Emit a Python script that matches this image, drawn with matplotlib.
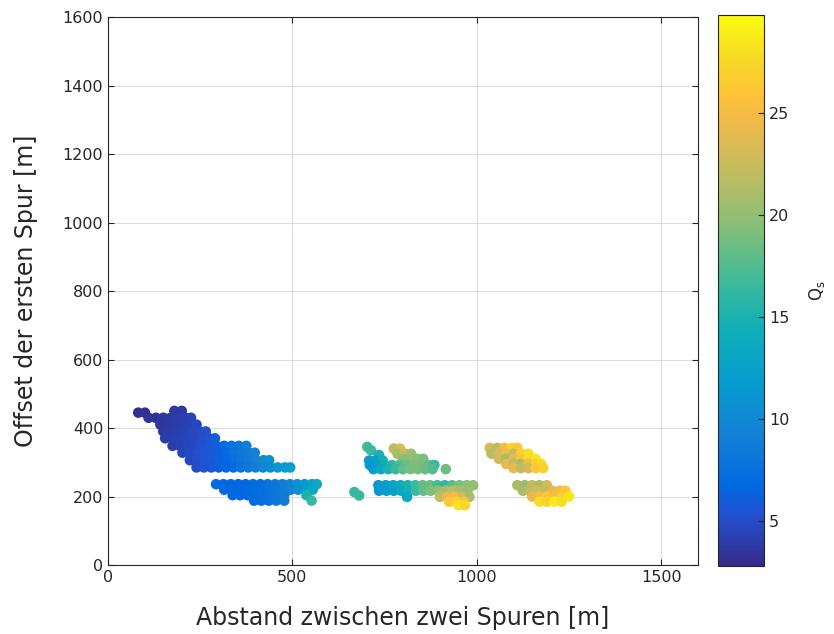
import numpy as np
import matplotlib
matplotlib.use('Agg')
import matplotlib.pyplot as plt
from matplotlib.colors import LinearSegmentedColormap, Normalize

# parula-like colormap (anchor colours)
parula_pos = [0, 6, 9, 15, 21, 27, 33, 39, 45, 51, 54, 58, 63]
parula_rgb = [(0.2081, 0.1663, 0.5292), (0.1253, 0.3242, 0.8303), (0.0060, 0.4086, 0.8828),
              (0.0779, 0.5040, 0.8384), (0.0265, 0.6137, 0.8135), (0.0590, 0.6838, 0.7254),
              (0.2586, 0.7317, 0.5954), (0.5300, 0.7491, 0.4661), (0.7525, 0.7384, 0.3768),
              (0.9450, 0.7261, 0.2886), (0.9990, 0.7653, 0.2164), (0.9698, 0.8481, 0.1475),
              (0.9763, 0.9831, 0.0538)]
parula = LinearSegmentedColormap.from_list('parula', [(p / 63, c) for p, c in zip(parula_pos, parula_rgb)])

# cluster 1, upper band
c1u_x = [180, 200,
         82, 100,
         110, 130, 150, 170, 190, 210, 225,
         142, 160, 180, 200, 220, 240,
         150, 170, 190, 210, 230, 250, 265,
         155, 175, 195, 215, 235, 255, 275, 290,
         175, 195, 215, 235, 255, 275, 295, 315, 335, 355, 375,
         202, 222, 242, 262, 282, 302, 322, 342, 362, 382, 398,
         222, 242, 262, 282, 302, 322, 342, 362, 382, 402, 422, 437,
         240, 260, 280, 300, 320, 340, 360, 380, 400, 420, 440, 460, 480, 494]
c1u_y = [450] * 2 + [445] * 2 + [430] * 7 + [410] * 6 + [390] * 7 + [370] * 8 + [348] * 11 + [328] * 11 + [306] * 12 + [285] * 14
c1u_q = [3.6, 3.8,
         3.2, 3.3,
         3.4, 3.5, 3.6, 3.8, 3.9, 4.1, 4.3,
         3.6, 3.7, 3.9, 4.1, 4.3, 4.6,
         3.7, 3.9, 4.1, 4.3, 4.6, 4.9, 5.2,
         3.9, 4.1, 4.3, 4.5, 4.8, 5.1, 5.5, 5.8,
         4.0, 4.2, 4.5, 4.8, 5.2, 5.6, 6.0, 7.0, 7.8, 8.3, 8.8,
         4.5, 4.8, 5.1, 5.5, 5.8, 6.2, 7.0, 7.8, 8.3, 8.8, 9.3,
         4.8, 5.1, 5.4, 5.8, 6.2, 6.8, 7.5, 8.1, 8.7, 9.3, 9.9, 10.5,
         5.0, 5.4, 5.7, 6.1, 6.6, 7.2, 7.8, 8.4, 9.0, 9.6, 10.3, 11.0, 11.8, 12.4]

# cluster 1, lower band
c1l_x = [293, 313, 333, 353, 373, 393, 413, 433, 453, 473, 493, 513, 533, 553, 566,
         315, 335, 355, 375, 395, 415, 435, 455, 475, 495, 515, 535, 555,
         338, 358, 378, 398, 418, 438, 458, 478, 538,
         396, 416, 436, 456, 478, 552]
c1l_y = [236] * 15 + [220] * 13 + [204] * 9 + [188] * 6
c1l_q = [7.0, 6.8, 6.7, 6.6, 6.7, 6.9, 7.2, 7.6, 8.1, 8.7, 9.5, 10.5, 11.5, 12.5, 13.5,
         6.9, 6.8, 6.7, 6.8, 7.0, 7.3, 7.7, 8.2, 8.8, 9.6, 10.6, 11.8, 13.0,
         6.8, 6.7, 6.8, 7.0, 7.3, 7.7, 8.2, 8.8, 15.0,
         7.0, 7.3, 7.7, 8.2, 8.8, 16.5]

# cluster 2
c2_x = [668, 681,
        703, 713, 735,
        775, 792,
        785, 805, 822,
        800, 820, 840, 855,
        708, 725, 745,
        710, 730, 750, 770, 790, 810, 830, 850, 870, 885,
        720, 740, 760, 780, 800, 820, 840, 860, 880, 916,
        733, 753, 773, 793, 813, 833, 853, 873, 893, 913, 933, 953, 973, 990,
        735, 755, 775, 795, 815, 835, 855, 875, 895, 915, 935, 955, 975,
        811, 900, 920, 940, 960, 980,
        925, 945, 965,
        950, 968]
c2_y = [213, 203,
        345, 335, 321,
        340, 340,
        325, 325, 325,
        310, 310, 310, 310,
        305, 305, 305,
        292, 292, 292, 292, 292, 292, 292, 292, 292, 292,
        280, 280, 280, 280, 280, 280, 280, 280, 280, 280] + [233] * 14 + [217] * 13 + [199] * 6 + [185] * 3 + [175] * 2
c2_q = [16.5, 16.5,
        17.0, 16.5, 15.0,
        21.5, 23.5,
        21.0, 22.5, 20.5,
        19.5, 20.0, 19.5, 19.0,
        11.5, 12.5, 14.5,
        11.5, 12.5, 14.5, 16.0, 17.5, 18.5, 19.0, 19.0, 18.0, 16.5,
        12.0, 13.5, 15.0, 16.5, 18.0, 19.0, 19.0, 18.5, 17.5, 18.5,
        11.5, 12.0, 12.8, 13.8, 15.0, 16.5, 18.0, 18.5, 17.0, 16.0, 17.5, 19.0, 19.5, 20.0,
        11.5, 12.0, 12.5, 13.5, 14.8, 16.5, 18.0, 19.0, 20.0, 21.0, 22.0, 21.0, 20.5,
        13.0, 22.0, 24.0, 25.0, 23.0, 21.0,
        26.0, 27.0, 25.5,
        28.5, 27.5]

# cluster 3
c3_x = [1035, 1055, 1075, 1095, 1110,
        1040, 1060, 1080, 1100, 1120, 1140,
        1060, 1080, 1100, 1120, 1140, 1160,
        1080, 1100, 1120, 1140, 1160, 1175,
        1100, 1120, 1140, 1160, 1180,
        1110, 1130, 1150, 1170, 1190,
        1125, 1145, 1165, 1185, 1205, 1225, 1240,
        1150, 1170, 1190, 1210, 1230, 1250,
        1170, 1190, 1210, 1230]
c3_y = [342] * 5 + [325] * 6 + [310] * 6 + [295] * 6 + [283] * 5 + [233] * 5 + [217] * 7 + [200] * 6 + [185] * 4
c3_q = [23, 22, 25, 27, 26,
        21.5, 23, 25, 22, 27, 28,
        23, 21, 24, 26, 28, 28.5,
        24, 22, 21, 25, 27, 28,
        24, 22, 23, 26, 27,
        21, 20, 22, 21, 23,
        21, 22, 23, 22, 24, 25, 26,
        24, 25, 26, 25, 27, 28.5,
        28, 27, 29, 28]

fig = plt.figure(figsize=(8.34, 6.34), dpi=100)
ax = fig.add_axes([0.1295, 0.1088, 0.7075, 0.8642])
norm = Normalize(vmin=2.8, vmax=29.8)

for xs, ys, qs in [(c1u_x, c1u_y, c1u_q), (c1l_x, c1l_y, c1l_q), (c2_x, c2_y, c2_q), (c3_x, c3_y, c3_q)]:
    sc = ax.scatter(xs, ys, c=qs, cmap=parula, norm=norm, s=58, edgecolors='none', zorder=3)

ax.set_xlim(0, 1600)
ax.set_ylim(0, 1600)
ax.set_xticks([0, 500, 1000, 1500])
ax.set_yticks(np.arange(0, 1601, 200))
ax.grid(True, color='#dcdcdc', lw=0.8, zorder=0)
ax.set_axisbelow(True)
ax.tick_params(direction='in', labelsize=11.5, colors='#262626', length=4, top=True, right=True,
               labeltop=False, labelright=False)
for sp in ax.spines.values():
    sp.set_color('#262626')
    sp.set_linewidth(0.8)
ax.set_xlabel('Abstand zwischen zwei Spuren [m]', fontsize=17, color='#262626', labelpad=15)
ax.set_ylabel('Offset der ersten Spur [m]', fontsize=17, color='#262626', labelpad=18)

cax = fig.add_axes([0.861, 0.107, 0.055, 0.869])
cb = fig.colorbar(sc, cax=cax)
cb.set_ticks([5, 10, 15, 20, 25])
cb.ax.tick_params(direction='in', labelsize=11.5, colors='#262626', length=4)
cb.outline.set_edgecolor('#262626')
cb.outline.set_linewidth(0.8)
cb.set_label('Q$_\\mathregular{s}$', fontsize=12, color='#262626', labelpad=13)

fig.savefig('out.png', dpi=100)
